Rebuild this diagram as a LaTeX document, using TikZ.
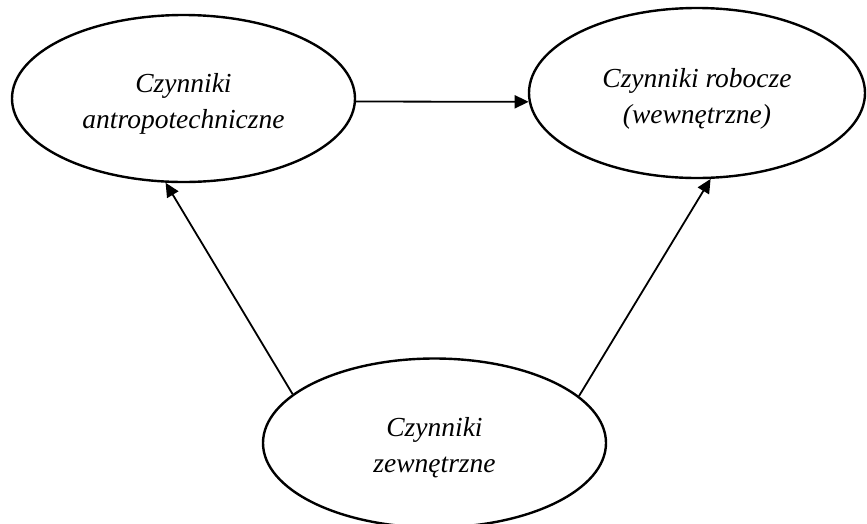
\documentclass[tikz,border=0pt]{standalone}
\usepackage{fontspec}
\setmainfont{Liberation Serif}
\usetikzlibrary{shapes.geometric,arrows.meta}
\tikzset{
  oval/.style={ellipse, draw=black, line width=2.4pt, inner sep=0pt, fill=white},
  lbl/.style={align=center, inner sep=0pt, font=\fontsize{27.5}{36}\selectfont\itshape},
  arr/.style={line width=1.8pt, -{Triangle[length=14pt,width=13pt]}}
}
\begin{document}
\begin{tikzpicture}[x=1pt,y=1pt]
\useasboundingbox[fill=white] (0,0) rectangle (867,-523);
\node[oval, minimum width=343pt, minimum height=167pt] (L) at (183.5,-98.5) {};
\node[oval, minimum width=336pt, minimum height=170pt] (R) at (697,-93) {};
\node[oval, minimum width=343pt, minimum height=169pt] (B) at (434.5,-443) {};
\node[lbl] (Lt) at ([yshift=-5pt]L.center) {Czynniki\\antropotechniczne};
\node[lbl] (Rt) at ([yshift=-6pt]R.center) {Czynniki robocze\\(wewnętrzne)};
\node[lbl] (Bt) at ([yshift=-5pt]B.center) {Czynniki\\zewnętrzne};
\draw[arr] (L.-1.5) -- (R.183.4);
\draw[arr] (B.161.4) -- (L.258.2);
\draw[arr] (B.18.3) -- (R.279.8);
\end{tikzpicture}
\end{document}
